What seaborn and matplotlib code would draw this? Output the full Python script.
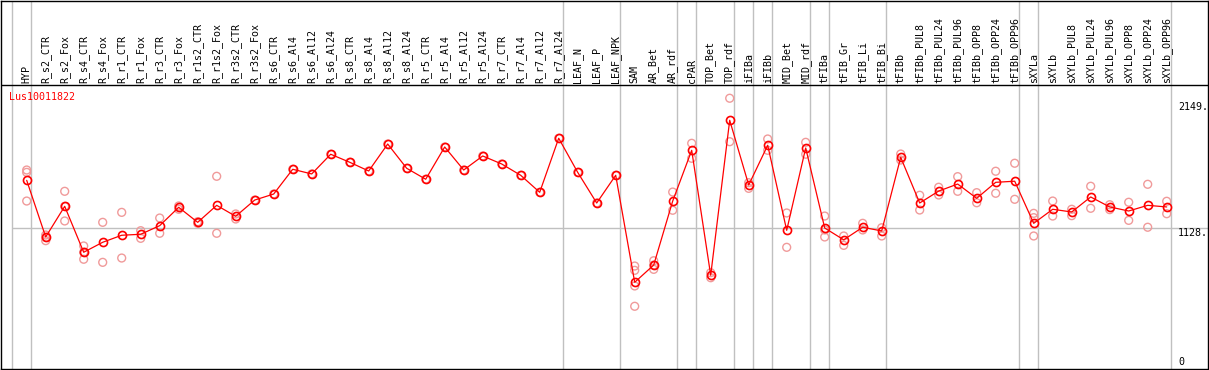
import matplotlib
matplotlib.use("Agg")
import matplotlib.pyplot as plt
import seaborn as sns
import pandas as pd
import numpy as np

categories = [
    "HYP", "R_s2_CTR", "R_s2_Fox", "R_s4_CTR", "R_s4_Fox", "R_r1_CTR", "R_r1_Fox",
    "R_r3_CTR", "R_r3_Fox", "R_r1s2_CTR", "R_r1s2_Fox", "R_r3s2_CTR", "R_r3s2_Fox",
    "R_s6_CTR", "R_s6_Al4", "R_s6_Al12", "R_s6_Al24", "R_s8_CTR", "R_s8_Al4",
    "R_s8_Al12", "R_s8_Al24", "R_r5_CTR", "R_r5_Al4", "R_r5_Al12", "R_r5_Al24",
    "R_r7_CTR", "R_r7_Al4", "R_r7_Al12", "R_r7_Al24", "LEAF_N", "LEAF_P", "LEAF_NPK",
    "SAM", "AR_Bet", "AR_rdf", "cPAR", "TOP_Bet", "TOP_rdf", "iFIBa", "iFIBb",
    "MID_Bet", "MID_rdf", "tFIBa", "tFIB_Gr", "tFIB_Li", "tFIB_Bi", "tFIBb",
    "tFIBb_PUL8", "tFIBb_PUL24", "tFIBb_PUL96", "tFIBb_OPP8", "tFIBb_OPP24",
    "tFIBb_OPP96", "sXYLa", "sXYLb", "sXYLb_PUL8", "sXYLb_PUL24", "sXYLb_PUL96",
    "sXYLb_OPP8", "sXYLb_OPP24", "sXYLb_OPP96",
]

mean_values = [
    1513, 1053, 1302, 929, 1010, 1067, 1075, 1145, 1294, 1172, 1310, 1221, 1353,
    1402, 1603, 1565, 1725, 1660, 1589, 1808, 1611, 1522, 1784, 1597, 1711,
    1646, 1554, 1416, 1855, 1578, 1329, 1554,
    685, 825, 1345, 1757, 742, 2001, 1475, 1798, 1107, 1776, 1126, 1030, 1132, 1102,
    1700, 1329, 1426, 1483, 1367, 1497, 1506, 1164, 1278, 1256, 1378, 1297, 1264,
    1310, 1297,
]

replicate_values = [
    [1597, 1578, 1345], [1069, 1050, 1023], [1424, 1302, 1183], [980, 929, 872],
    [1172, 847], [1253, 882], [1104, 1042], [1207, 1083], [1278, 1305],
    [1177, 1164], [1546, 1083], [1240, 1199], [1353],
    [1402], [1603], [1565], [1725], [1660], [1589], [1808], [1611], [1522], [1784],
    [1597], [1711], [1646], [1554], [1416], [1855], [1578], [1329], [1554],
    [817, 782, 655, 490], [860, 825, 790], [1418, 1270], [1814, 1692], [763, 722],
    [2180, 1827], [1494, 1448], [1849, 1757], [1248, 969], [1822, 1725],
    [1223, 1053, 1110], [1061, 985], [1164, 1110], [1128, 1061], [1727, 1678],
    [1392, 1272], [1457, 1394], [1543, 1424], [1413, 1331], [1587, 1408],
    [1652, 1359], [1245, 1210, 1061], [1345, 1223], [1278, 1226], [1465, 1286],
    [1315, 1275], [1335, 1188], [1481, 1132], [1343, 1242],
]

gene_name = "Lus10011822"
ytick_values = [2149, 1128, 0]
ytick_labels = ["2149.", "1128.", "0"]
group_ends = [-1, 0, 28, 31, 34, 35, 37, 38, 39, 41, 42, 45, 52, 53, 60]
reference_level = 1128

sns.set_style("white")
plt.rcParams["font.family"] = ["DejaVu Sans Mono", "DejaVu Sans"]

W, H = 1209, 370
fig = plt.figure(figsize=(W / 100, H / 100), dpi=100)
ax = fig.add_axes([1 / W, 1.5 / H, 1207 / W, 368 / H])

# pixel mapping helpers (x: category index, y: value)
px0, step = 26.7, 19.0
py0, scale = 366.6, 0.1231
ax.set_xlim((1 - px0) / step, (1208 - px0) / step)
ax.set_ylim((py0 - 368.5) / scale, (py0 - 0.5) / scale)

mean_df = pd.DataFrame({"pos": np.arange(len(categories)), "value": mean_values})
rep_df = pd.DataFrame(
    [(i, v) for i, reps in enumerate(replicate_values) for v in reps],
    columns=["pos", "value"],
)

# separators
for g in group_ends:
    ax.axvline(g + 0.2, color="#c0c0c0", lw=1.0, zorder=1)
ax.hlines(reference_level, group_ends[0] + 0.2, ax.get_xlim()[1], color="#c0c0c0", lw=1.0, zorder=1)
header_y = (py0 - 85) / scale
ax.axhline(header_y, color="black", lw=1.0, zorder=2)

sns.scatterplot(data=rep_df, x="pos", y="value", ax=ax, marker="o", s=32,
                facecolor="none", edgecolor="#f09a9a", linewidth=1.0, zorder=3, legend=False)
sns.lineplot(data=mean_df, x="pos", y="value", ax=ax, color="red", lw=0.9,
             marker="o", markersize=5.8, markerfacecolor="none",
             markeredgecolor="red", markeredgewidth=1.2, zorder=4, legend=False)

label_y = (py0 - 83) / scale
for i, lab in enumerate(categories):
    ax.text(i, label_y, lab, rotation=90, ha="center", va="bottom", fontsize=7.2, color="black")

ax.text((9.3 - px0) / step, (py0 - 97.3) / scale, gene_name, color="red", fontsize=7.2,
        ha="left", va="center")

tx = (1178 - px0) / step
for v, lab in zip(ytick_values, ytick_labels):
    ax.text(tx, v, lab, fontsize=7.2, ha="left", va="bottom" if v == 0 else "top", color="black")

ax.set_xticks([])
ax.set_yticks([])
ax.set_xlabel("")
ax.set_ylabel("")
for sp in ax.spines.values():
    sp.set_visible(True)
    sp.set_color("black")
    sp.set_linewidth(1.0)

fig.savefig("out.png", dpi=100)
